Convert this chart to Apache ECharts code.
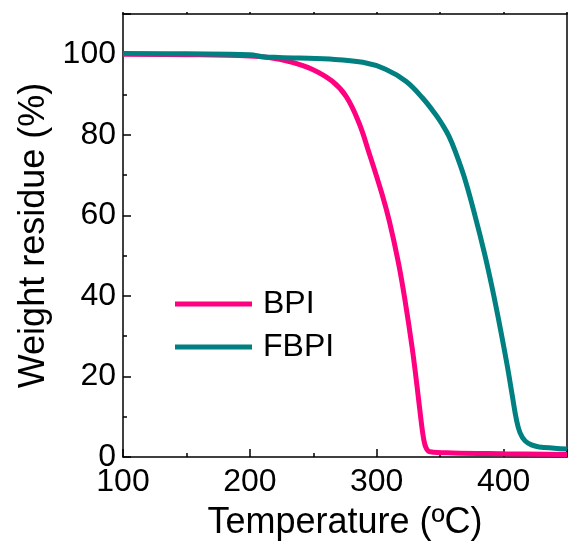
<!DOCTYPE html>
<html>
<head>
<meta charset="utf-8">
<script src="https://cdn.jsdelivr.net/npm/echarts@6/dist/echarts.min.js"></script>
<style>
html,body{margin:0;padding:0;background:#fff;}
#chart{width:568px;height:546px;}
</style>
</head>
<body>
<div id="chart"></div>
<script>
// BPI
var bpiTemp = [100, 150, 200, 215, 231, 249, 265, 276, 286, 294, 304, 310, 317, 322, 328, 332, 335, 337, 339, 342, 360, 400, 450];
var bpiWeight = [100, 99.9, 99.6, 99.2, 98.2, 96.3, 93.3, 89.5, 83, 75.5, 65.5, 58.5, 48.4, 39.5, 27, 17, 9, 4.5, 2.2, 1.3, 1.0, 0.8, 0.6];
// FBPI
var fbpiTemp = [100, 150, 200, 210, 223, 263, 289, 307, 323, 336, 347, 352, 357, 362, 369, 377, 385, 391, 398, 403, 407, 410, 413, 417, 422, 428, 440, 450];
var fbpiWeight = [100.2, 100.1, 99.9, 99.4, 99.2, 98.8, 98, 96.3, 93.3, 89.2, 84.8, 82.4, 79.6, 75.8, 69.5, 60.5, 50.5, 42, 31, 22.5, 15, 9.5, 6, 4, 3, 2.5, 2.2, 2.0];
var seriesNames = ['BPI', 'FBPI'];
var seriesColors = ['#FF0080', '#008080'];

function pairs(xs, ys){ return xs.map(function(x,i){ return [x, ys[i]]; }); }

var chart = echarts.init(document.getElementById('chart'), null, {renderer:'canvas'});
var font = 'Liberation Sans, Arial, sans-serif';
chart.setOption({
  animation: false,
  backgroundColor: '#fff',
  grid: {left: 123, right: 1, top: 14, bottom: 89, containLabel: false},
  legend: {
    orient: 'vertical', left: 170, top: 283, itemGap: 11,
    itemWidth: 77, itemHeight: 5, icon: 'rect',
    textStyle: {fontFamily: font, fontSize: 32, color: '#000', padding: [0,0,0,6], lineHeight: 32},
    data: seriesNames
  },
  xAxis: [{
    type: 'value', min: 100, max: 450, interval: 100,
    name: 'Temperature (ºC)', nameLocation: 'middle', nameGap: 48,
    nameTextStyle: {fontFamily: font, fontSize: 36, color: '#000'},
    axisLine: {show: true, onZero: false, lineStyle: {color: '#000', width: 1.5}},
    axisTick: {show: true, inside: true, length: 8, lineStyle: {color: '#000', width: 1.5}},
    minorTick: {show: true, splitNumber: 2, length: 4, lineStyle: {color: '#000', width: 1.5}},
    axisLabel: {fontFamily: font, fontSize: 32, color: '#000', margin: 9, showMaxLabel: false},
    splitLine: {show: false}, minorSplitLine: {show: false}
  }, {
    type: 'value', position: 'top', min: 100, max: 450, interval: 50,
    axisLine: {show: true, onZero: false, lineStyle: {color: '#000', width: 1.5}},
    axisTick: {show: true, inside: false, length: 2, lineStyle: {color: '#000', width: 1.5}},
    axisLabel: {show: false}, splitLine: {show: false}
  }],
  yAxis: [{
    type: 'value', min: 0, max: 110, interval: 20,
    name: 'Weight residue (%)', nameLocation: 'middle', nameGap: 70,
    nameTextStyle: {fontFamily: font, fontSize: 36, color: '#000'},
    axisLine: {show: true, onZero: false, lineStyle: {color: '#000', width: 1.5}},
    axisTick: {show: true, inside: true, length: 8, lineStyle: {color: '#000', width: 1.5}},
    minorTick: {show: true, splitNumber: 2, length: 4, lineStyle: {color: '#000', width: 1.5}},
    axisLabel: {fontFamily: font, fontSize: 32, color: '#000', margin: 7, showMaxLabel: false},
    splitLine: {show: false}, minorSplitLine: {show: false}
  }, {
    type: 'value', position: 'right', min: 0, max: 110,
    axisLine: {show: true, onZero: false, lineStyle: {color: '#000', width: 1.5}},
    axisTick: {show: false}, axisLabel: {show: false}, splitLine: {show: false}
  }],
  series: [{
    name: seriesNames[0], type: 'line', showSymbol: false, smooth: 0.4,
    color: seriesColors[0], lineStyle: {width: 5, color: seriesColors[0]},
    data: pairs(bpiTemp, bpiWeight), z: 2
  }, {
    name: seriesNames[1], type: 'line', showSymbol: false, smooth: 0.4,
    color: seriesColors[1], lineStyle: {width: 5, color: seriesColors[1]},
    data: pairs(fbpiTemp, fbpiWeight), z: 3
  }]
});
</script>
</body>
</html>
